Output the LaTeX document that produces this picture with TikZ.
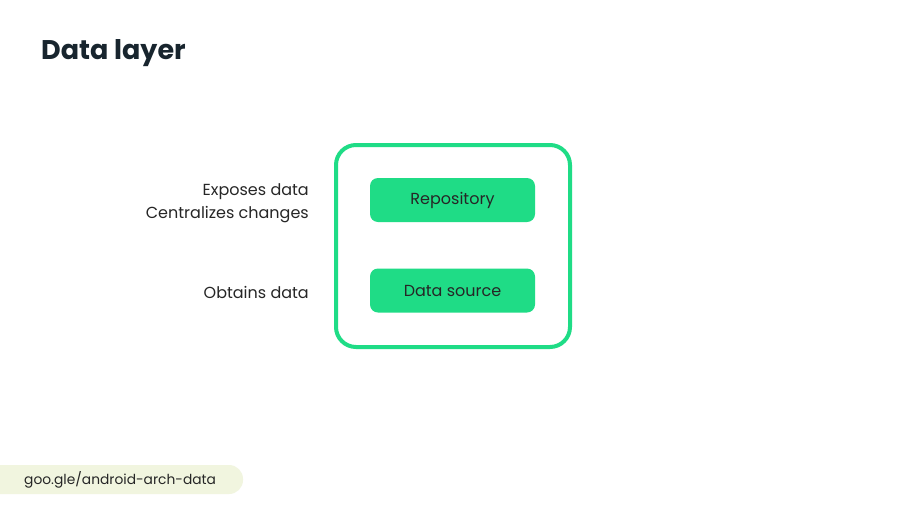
\documentclass[tikz,border=0pt]{standalone}
\usepackage{fontspec}
\setmainfont{Poppins}
\newfontfamily\titlefont{Poppins}
\definecolor{andgreen}{HTML}{1FDC86}
\definecolor{titlecol}{HTML}{18252E}
\definecolor{pillcol}{HTML}{F1F5DF}
\begin{document}
\begin{tikzpicture}[x=1pt,y=-1pt,
  labeltext/.style={font=\fontsize{16}{23}\selectfont, text=black!85, align=right, anchor=east, inner sep=0pt},
  greenbox/.style={fill=andgreen, rounded corners=8pt, minimum width=165pt, minimum height=44pt, inner sep=0pt, font=\fontsize{16}{20}\selectfont, text=black!85}]
\useasboundingbox (0,0) rectangle (900,504);
\fill[white] (0,0) rectangle (900,504);
\node[anchor=west, inner sep=0pt, font=\titlefont\bfseries\fontsize{27}{32}\selectfont, text=titlecol] (title) at (41,53) {Data layer};
\draw[andgreen, line width=4pt, rounded corners=20pt] (336,145) rectangle (570,347);
\node[greenbox] (repo) at (452.5,200) {Repository};
\node[greenbox] (ds) at (452.5,290.5) {Data source};
\node[labeltext] (l1) at (309,203) {Exposes data\\Centralizes changes};
\node[labeltext] (l2) at (309,292) {Obtains data};
\fill[pillcol, rounded corners=14pt] (-20,465) rectangle (243,494);
\node[anchor=west, inner sep=0pt, font=\fontsize{13.8}{17}\selectfont, text=black!85] (link) at (24,480) {goo.gle/android-arch-data};
\end{tikzpicture}
\end{document}
